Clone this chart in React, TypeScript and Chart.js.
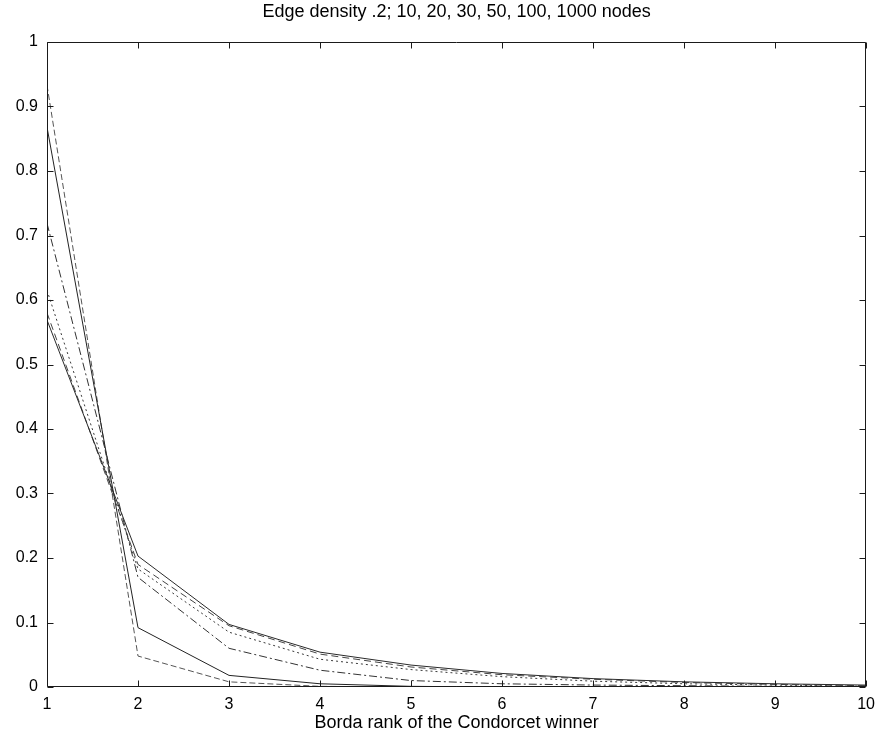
import React, { useEffect, useRef } from "react";
import { Chart, registerables } from "chart.js";

Chart.register(...registerables);

const RANKS = [1, 2, 3, 4, 5, 6, 7, 8, 9, 10];
const Y_TICKS = [0, 0.1, 0.2, 0.3, 0.4, 0.5, 0.6, 0.7, 0.8, 0.9, 1];
const SERIES_NAMES = ["10 nodes", "20 nodes", "30 nodes", "50 nodes", "100 nodes", "1000 nodes"];

const S10 = [0.569, 0.203, 0.097, 0.054, 0.034, 0.021, 0.013, 0.008, 0.005, 0.003];
const S20 = [0.58, 0.19, 0.095, 0.051, 0.031, 0.019, 0.012, 0.007, 0.004, 0.002];
const S30 = [0.615, 0.183, 0.085, 0.043, 0.027, 0.016, 0.009, 0.005, 0.003, 0.001];
const S50 = [0.719, 0.17, 0.06, 0.026, 0.01, 0.005, 0.003, 0.002, 0.001, 0.0];
const S100 = [0.868, 0.092, 0.018, 0.005, 0.001, 0.0, 0.0, 0.0, 0.0, 0.0];
const S1000 = [0.933, 0.048, 0.008, 0.001, 0.0, 0.0, 0.0, 0.0, 0.0, 0.0];

const SERIES = [S10, S20, S30, S50, S100, S1000];
const COLORS = ["#2a2a2a", "#444444", "#3a3a3a", "#333333", "#222222", "#555555"];
const DASHES: number[][] = [[], [7, 4], [2, 3], [8, 3, 2, 3], [], [6, 3]];

const TITLE = "Edge density .2; 10, 20, 30, 50, 100, 1000 nodes";
const X_LABEL = "Borda rank of the Condorcet winner";

const FONT = "'Liberation Sans', Arial, Helvetica, sans-serif";

const boxTicks = {
  id: "boxTicks",
  afterDraw(chart: any) {
    const { ctx, chartArea } = chart;
    const { left, right, top, bottom } = chartArea;
    const xs = chart.scales.x;
    const ys = chart.scales.y;
    const len = 6;
    ctx.save();
    ctx.strokeStyle = "#1a1a1a";
    ctx.lineWidth = 1;
    ctx.beginPath();
    const L = Math.round(left) + 0.5;
    const R = Math.round(right) - 0.5;
    const T = Math.round(top) + 0.5;
    const B = Math.round(bottom) - 0.5;
    ctx.rect(L, T, R - L, B - T);
    xs.ticks.forEach((t: any) => {
      const px = Math.round(xs.getPixelForValue(t.value)) + 0.5;
      ctx.moveTo(px, B);
      ctx.lineTo(px, B - len);
      ctx.moveTo(px, T);
      ctx.lineTo(px, T + len);
    });
    ys.ticks.forEach((t: any) => {
      const py = Math.round(ys.getPixelForValue(t.value)) + 0.5;
      ctx.moveTo(L, py);
      ctx.lineTo(L + len, py);
      ctx.moveTo(R, py);
      ctx.lineTo(R - len, py);
    });
    ctx.stroke();
    // title centred over the plot area
    ctx.fillStyle = "#000";
    ctx.font = `18px ${FONT}`;
    ctx.textAlign = "center";
    ctx.textBaseline = "middle";
    ctx.fillText(TITLE, (left + right) / 2, 12);
    ctx.restore();
  },
};

export default function App() {
  const ref = useRef<HTMLCanvasElement | null>(null);

  useEffect(() => {
    document.body.style.margin = "0";
    const canvas = ref.current;
    if (!canvas) return;
    const datasets = SERIES.map((s, i) => ({
      label: SERIES_NAMES[i],
      data: s.map((v, j) => ({ x: RANKS[j], y: v })),
      borderColor: COLORS[i],
      borderWidth: 1,
      borderDash: DASHES[i],
      pointRadius: 0,
      fill: false,
      tension: 0,
    }));
    const chart = new Chart(canvas, {
      type: "line",
      data: { datasets },
      options: {
        responsive: false,
        animation: false,
        devicePixelRatio: 1,
        layout: { padding: { left: 0, right: 13, top: 42, bottom: 0 } },
        plugins: {
          legend: { display: false },
          tooltip: { enabled: false },
          title: { display: false },
        },
        scales: {
          x: {
            type: "linear",
            min: 1,
            max: 10,
            grid: { display: false, drawTicks: false },
            border: { display: false },
            afterFit: (s: any) => {
              s.height = 53;
            },
            afterBuildTicks: (s: any) => {
              s.ticks = RANKS.map((v) => ({ value: v }));
            },
            ticks: {
              color: "#000",
              font: { family: FONT, size: 16 },
              padding: 8,
              maxRotation: 0,
              autoSkip: false,
              callback: (v: any) => String(v),
            },
            title: {
              display: true,
              text: X_LABEL,
              color: "#000",
              font: { family: FONT, size: 18 },
              padding: { top: 0, bottom: 6 },
            },
          },
          y: {
            type: "linear",
            min: 0,
            max: 1,
            grid: { display: false, drawTicks: false },
            border: { display: false },
            afterFit: (s: any) => {
              s.width = 47;
            },
            afterBuildTicks: (s: any) => {
              s.ticks = Y_TICKS.map((v) => ({ value: v }));
            },
            ticks: {
              color: "#000",
              font: { family: FONT, size: 16 },
              padding: 9,
              autoSkip: false,
              callback: (v: any) => String(Number(Number(v).toFixed(1))),
            },
          },
        },
      },
      plugins: [boxTicks],
    });
    return () => chart.destroy();
  }, []);

  return (
    <div style={{ width: 883, height: 740, background: "#fff" }}>
      <canvas ref={ref} width={883} height={740} style={{ width: 883, height: 740, display: "block" }} />
    </div>
  );
}
